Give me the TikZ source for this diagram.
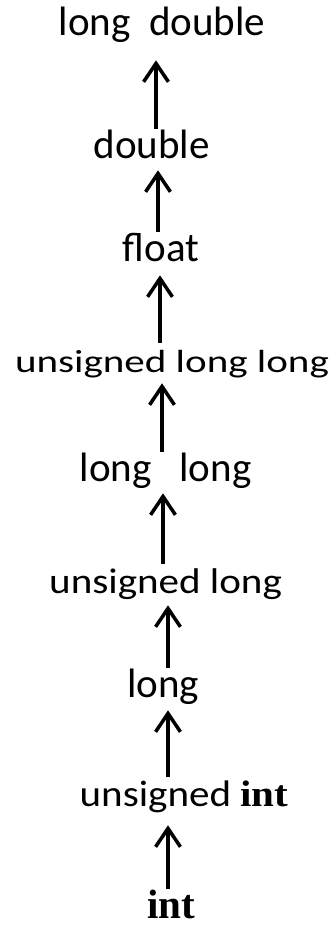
\documentclass[tikz,border=0pt]{standalone}
\usepackage{fontspec}
\setmainfont{Carlito}
\newfontfamily\kwfont{Liberation Serif}
\usepackage{tikz}
\usetikzlibrary{arrows.meta}

\begin{document}
\begin{tikzpicture}[
    lbl/.style={inner sep=0pt, anchor=base, text height=0.75cm, text depth=0.25cm,
        font=\fontsize{29.2}{35}\selectfont},
    up/.style={line width=2.5pt, -{Straight Barb[length=0.46cm,width=0.62cm]}}
]
    \useasboundingbox (0,0) rectangle (8.4,23.225);

    \node[lbl] (ldbl) at (4.05,22.325) {long~~double};
    \node[lbl] (dbl) at (3.79,19.25) {double};
    \node[lbl] (flt) at (4.025,16.675) {float};
    \node[lbl] (ull) at (4.3,13.9) {\scalebox{1}[0.78]{unsigned long long}};
    \node[lbl] (ll) at (4.14,11.175) {long~~~long};
    \node[lbl] (ul) at (4.14,8.375) {\scalebox{1}[0.87]{unsigned long}};
    \node[lbl] (lng) at (4.075,5.775) {long};
    \node[lbl] (uint) at (4.6,3.05) {\scalebox{1}[0.9]{unsigned {\kwfont\bfseries int}}};
    \node[lbl, text depth=0pt] (int) at (4.275,0.25) {{\kwfont\bfseries int}};

    \foreach \lo/\hi/\x/\s in {int/uint/4.2/0.2, uint/lng/4.2/0.05, lng/ul/4.2/0.025,
        ul/ll/4.075/0.025, ll/ull/4.05/0, ull/flt/4.0/0.075, flt/dbl/3.95/0.025, dbl/ldbl/3.9/0.35}
        \draw[up, shorten >=\s cm] (\x,0 |- \lo.north) -- (\x,0 |- \hi.south);

\end{tikzpicture}
\end{document}
